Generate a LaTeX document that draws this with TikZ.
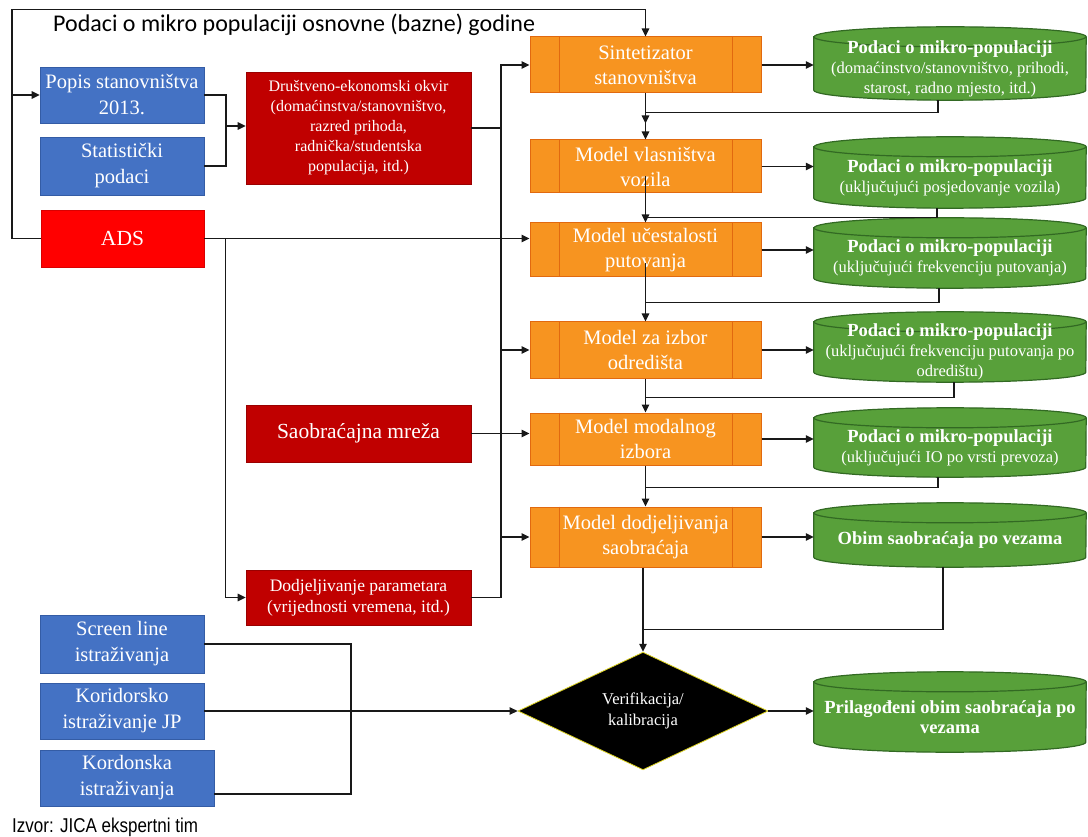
\documentclass[tikz,border=0pt]{standalone}
\usepackage{fontspec}
\setmainfont{Liberation Serif}
\newfontfamily\titlefont{Carlito}
\newfontfamily\footfont[FakeStretch=0.85]{Liberation Sans}
\usetikzlibrary{arrows.meta,shapes.geometric,backgrounds,calc}
\definecolor{blueF}{RGB}{68,114,196}
\definecolor{blueD}{RGB}{52,92,165}
\definecolor{redD}{RGB}{192,0,0}
\definecolor{redB}{RGB}{255,0,0}
\definecolor{orangeF}{RGB}{247,148,32}
\definecolor{orangeD}{RGB}{225,105,15}
\definecolor{greenF}{RGB}{88,160,58}
\definecolor{greenD}{RGB}{50,105,35}
\definecolor{lineC}{RGB}{25,25,25}
\tikzset{
  conn/.style={draw=lineC, line width=1.2pt},
  arr/.style={-{Triangle[length=8pt,width=7.5pt]}},
  box/.style={rectangle, inner sep=0pt, align=center, text=white},
  bluebox/.style={box, fill=blueF, draw=blueD, line width=0.6pt, font=\fontsize{20.5}{26}\selectfont},
  redbox/.style={box, fill=redD, draw=redD!80!black, line width=0.6pt},
  procbox/.style={box, fill=orangeF, draw=orangeD, line width=1pt, minimum width=231pt, font=\fontsize{20.5}{25}\selectfont},
  cyl/.style={rectangle, inner sep=0pt, align=center, text=white, minimum width=272pt, font=\fontsize{16.5}{20}\selectfont},
  cylline/.style={fill=greenF, draw=greenD, line width=1.2pt}
}
\newcommand{\cylshape}[1]{%
  \begin{scope}[on background layer]
    \filldraw[cylline] (#1.north west) -- ([yshift=10pt]#1.south west)
      arc[start angle=180,end angle=360,x radius=136pt,y radius=10pt]
      -- (#1.north east)
      arc[start angle=0,end angle=180,x radius=136pt,y radius=10pt] -- cycle;
    \draw[cylline, fill=none] (#1.north west)
      arc[start angle=180,end angle=360,x radius=136pt,y radius=10pt];
  \end{scope}}
\newcommand{\procbars}[1]{%
  \draw[orangeD, line width=1pt] ([xshift=30pt]#1.north west) -- ([xshift=30pt]#1.south west);
  \draw[orangeD, line width=1pt] ([xshift=-29pt]#1.north east) -- ([xshift=-29pt]#1.south east);}
\newcommand{\bh}{\bfseries\fontsize{18.5}{20}\selectfont}
\begin{document}
\begin{tikzpicture}[x=1pt,y=-1pt]
\useasboundingbox (0,0) rectangle (1088,837);
\begin{scope}[on background layer]
\fill[white] (0,0) rectangle (1088,837);
\end{scope}

% title and footer
\node[anchor=base west, inner sep=0pt, font=\titlefont\fontsize{24}{28}\selectfont] (title) at (53,32) {Podaci o mikro populaciji osnovne (bazne) godine};
\node[anchor=base west, inner sep=0pt, font=\footfont\fontsize{20}{24}\selectfont] (izvor) at (12,832) {Izvor: JICA ekspertni tim};

% left column
\node[bluebox, minimum width=164pt, minimum height=56pt] (popis) at (122,95) {Popis stanovništva\\2013.};
\node[bluebox, minimum width=164pt, minimum height=58pt] (stat) at (122,166) {Statistički\\podaci};
\node[box, fill=redB, draw=redB!85!black, line width=0.6pt, minimum width=163pt, minimum height=57pt, font=\fontsize{21.5}{26}\selectfont] (ads) at (122.5,238.5) {ADS};
\node[redbox, minimum width=225pt, minimum height=112pt, font=\fontsize{16}{20}\selectfont] (drust) at (358.5,128) {Društveno-ekonomski okvir\\(domaćinstva/stanovništvo,\\razred prihoda,\\radnička/studentska\\populacija, itd.)};
\node[redbox, minimum width=225pt, minimum height=57pt, font=\fontsize{21.5}{26}\selectfont] (saob) at (358.5,433.5) {Saobraćajna mreža};
\node[redbox, minimum width=225pt, minimum height=55pt, font=\fontsize{17.5}{21}\selectfont] (dodpar) at (358.5,597.5) {Dodjeljivanje parametara\\(vrijednosti vremena, itd.)};
\node[bluebox, minimum width=164pt, minimum height=58pt] (screen) at (122,644) {Screen line\\istraživanja};
\node[bluebox, minimum width=164pt, minimum height=56pt] (korid) at (122,711) {Koridorsko\\istraživanje JP};
\node[bluebox, minimum width=174pt, minimum height=56pt] (kordon) at (127,778) {Kordonska\\istraživanja};

% process boxes
\node[procbox, minimum height=56pt] (sint) at (645.5,65) {Sintetizator\\stanovništva};
\node[procbox, minimum height=53pt] (vlas) at (645.5,166.5) {Model vlasništva\\vozila};
\node[procbox, minimum height=54pt] (ucest) at (645.5,250) {Model učestalosti\\putovanja};
\node[procbox, minimum height=56pt] (izbor) at (645.5,350) {Model za izbor\\odredišta};
\node[procbox, minimum height=52pt] (modal) at (645.5,439) {Model modalnog\\izbora};
\node[procbox, minimum height=60pt] (dodj) at (645.5,537) {Model dodjeljivanja\\saobraćaja};
\procbars{sint}\procbars{vlas}\procbars{ucest}\procbars{izbor}\procbars{modal}\procbars{dodj}

% diamond
\node[diamond, fill=black, draw=yellow!85!black, line width=0.8pt, minimum width=250pt, minimum height=89pt, inner sep=0pt, text=white, align=center, font=\fontsize{16.5}{21}\selectfont] (diam) at (643,711) {Verifikacija/\\kalibracija};

% cylinders
\node[cyl, minimum height=63pt] (c1) at (950,68.5) {{\bh Podaci o mikro-populaciji}\\(domaćinstvo/stanovništvo, prihodi,\\starost, radno mjesto, itd.)};
\cylshape{c1}
\node[cyl, minimum height=61pt] (c2) at (950,177.5) {{\bh Podaci o mikro-populaciji}\\(uključujući posjedovanje vozila)};
\cylshape{c2}
\node[cyl, minimum height=60pt] (c3) at (950,258) {{\bh Podaci o mikro-populaciji}\\(uključujući frekvenciju putovanja)};
\cylshape{c3}
\node[cyl, minimum height=60pt] (c4) at (950,352) {{\bh Podaci o mikro-populaciji}\\(uključujući frekvenciju putovanja po\\odredištu)};
\cylshape{c4}
\node[cyl, minimum height=59pt] (c5) at (950,447.5) {{\bh Podaci o mikro-populaciji}\\(uključujući IO po vrsti prevoza)};
\cylshape{c5}
\node[cyl, minimum height=54pt, font=\bh] (c6) at (950,540) {Obim saobraćaja po vezama};
\cylshape{c6}
\node[cyl, minimum height=70pt, font=\bh] (c7) at (950,717) {Prilagođeni obim saobraćaja po\\vezama};
\cylshape{c7}

% coordinates
\coordinate (fTL) at (12,9.5);
\coordinate (jPS) at (226,126);
\coordinate (bus) at (501,300);
\coordinate (jB) at (351,711);

% frame
\draw[conn,arr] (ads.west) -- (ads.west -| fTL) -- (fTL) -- (fTL -| sint.north) -- (sint.north);
\draw[conn,arr] (popis.west -| fTL) -- (popis.west);

% inputs
\draw[conn] (popis.east) -| (jPS) |- (stat.east);
\draw[conn,arr] (jPS) -- (jPS -| drust.west);
\draw[conn,arr] (ads.east) -- (ads.east -| ucest.west);
\draw[conn,arr] (ads.east) -- ++(21,0) |- (dodpar.west);
\draw[conn] (drust.east) -- (drust.east -| bus);
\draw[conn,arr] (dodpar.east) -| (bus |- sint.west) -- (sint.west);
\draw[conn,arr] (bus |- izbor.west) -- (izbor.west);
\draw[conn,arr] (bus |- dodj.west) -- (dodj.west);
\draw[conn,arr] (saob.east) -- (saob.east -| modal.west);

% chain
\draw[conn,arr] (sint.south) -- (vlas.north);
\draw[conn,arr] ([yshift=-10pt]vlas.center) -- (ucest.north);
\draw[conn,arr] ([yshift=-13pt]ucest.center) -- (izbor.north);
\draw[conn,arr] (izbor.south) -- (modal.north);
\draw[conn,arr] (modal.south) -- (dodj.north);
\draw[conn,arr] (dodj.south -| diam.north) -- (diam.north);

% process to data
\draw[conn,arr] (sint.east) -- (sint.east -| c1.west);
\draw[conn,arr] (vlas.east) -- (vlas.east -| c2.west);
\draw[conn,arr] (ucest.east) -- (ucest.east -| c3.west);
\draw[conn,arr] (izbor.east) -- (izbor.east -| c4.west);
\draw[conn,arr] (modal.east) -- (modal.east -| c5.west);
\draw[conn,arr] (dodj.east) -- (dodj.east -| c6.west);

% data feedback
\draw[conn,arr] ([xshift=-12pt]c1.south) -- ++(0,12) -| ([yshift=-30pt]sint.south);
\draw[conn] ([xshift=-13pt]c2.south) |- ([yshift=-24pt]vlas.south);
\draw[conn] ([xshift=-11pt]c3.south) |- ([yshift=-25pt]ucest.south);
\draw[conn] ([xshift=4pt]c4.south) |- ([yshift=-19pt]izbor.south);
\draw[conn] ([xshift=-12pt]c5.south) |- ([yshift=-22pt]modal.south);
\draw[conn] ([xshift=-7pt]c6.south) |- ([yshift=-62pt]dodj.south -| diam.north);

% surveys
\draw[conn] (screen.east) -| (jB);
\draw[conn] ([yshift=-16pt]kordon.east) -| (jB);
\draw[conn,arr] (korid.east) -- (korid.east -| diam.west);
\draw[conn,arr] (diam.east) -- (diam.east -| c7.west);
\end{tikzpicture}
\end{document}
